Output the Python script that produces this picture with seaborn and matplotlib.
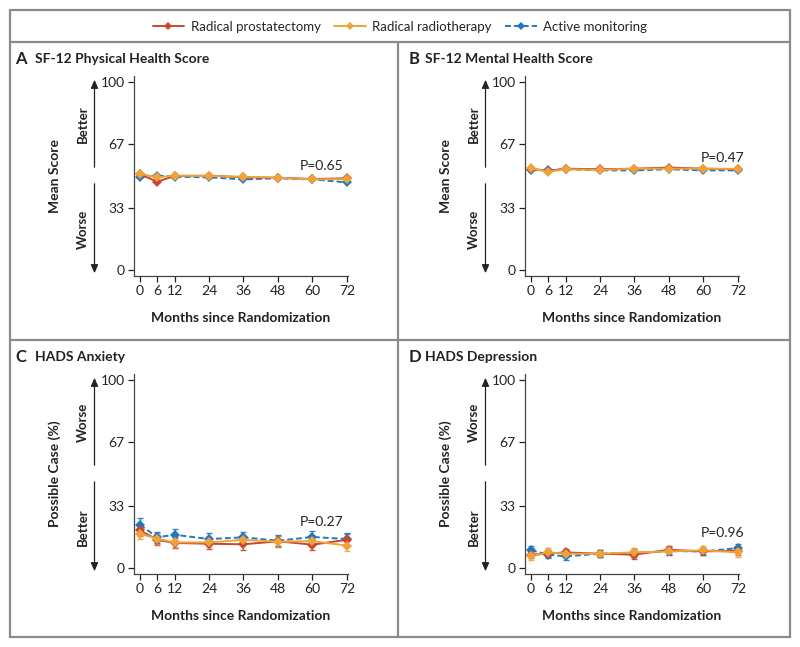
import numpy as np
import pandas as pd
import matplotlib.pyplot as plt
import seaborn as sns
from matplotlib.lines import Line2D

sns.set_style("white")
plt.rcParams['font.family'] = ['Lato', 'DejaVu Sans']

# Data
months = [0, 6, 12, 24, 36, 48, 60, 72]
groups = ["Radical prostatectomy", "Radical radiotherapy", "Active monitoring"]
colors = {"Radical prostatectomy": "#c9472d",
          "Radical radiotherapy": "#f0a23a",
          "Active monitoring": "#1f78c1"}

# Panel A: SF-12 physical health score
phys_rp = [50.9, 47.0, 50.0, 50.2, 49.3, 49.1, 48.4, 48.8]
phys_rt = [51.2, 49.3, 50.2, 50.0, 49.6, 49.1, 48.2, 48.4]
phys_am = [49.6, 50.2, 49.6, 49.3, 48.2, 48.8, 48.2, 46.6]

# Panel B: SF-12 mental health score
ment_rp = [53.9, 52.7, 53.9, 53.6, 53.9, 54.5, 53.9, 53.6]
ment_rt = [54.1, 52.3, 53.6, 53.2, 53.9, 53.9, 53.9, 53.8]
ment_am = [53.2, 53.0, 53.6, 53.0, 53.0, 53.6, 53.0, 53.0]

# Panel C: HADS anxiety, possible case (%)
anx_rp = [20.0, 15.0, 13.3, 12.9, 12.6, 14.2, 12.4, 15.0]
anx_rt = [18.2, 15.6, 13.6, 13.6, 15.0, 14.0, 14.3, 11.9]
anx_am = [23.0, 16.3, 17.7, 15.4, 16.3, 14.5, 16.5, 15.4]
anx_err_rp = [3.0, 2.8, 2.8, 2.8, 2.9, 2.8, 3.0, 3.1]
anx_err_rt = [2.7, 2.8, 2.7, 2.7, 2.8, 2.8, 2.8, 2.8]
anx_err_am = [3.5, 3.0, 3.2, 3.0, 3.1, 3.0, 3.1, 3.0]

# Panel D: HADS depression, possible case (%)
dep_rp = [7.1, 7.6, 8.3, 7.6, 7.1, 9.7, 8.8, 9.2]
dep_rt = [6.2, 8.3, 7.6, 7.6, 8.3, 8.8, 9.4, 8.3]
dep_am = [9.4, 7.1, 6.2, 7.6, 8.0, 9.0, 8.8, 10.6]
dep_err_rp = [2.0, 2.0, 2.0, 2.0, 2.1, 2.1, 2.0, 2.1]
dep_err_rt = [2.0, 2.1, 2.0, 2.0, 2.1, 2.0, 2.1, 2.5]
dep_err_am = [2.2, 2.0, 2.0, 2.0, 2.0, 2.0, 2.0, 2.1]

W, H = 800, 647
def fx(x):
    return x / W
def fy(y):
    return 1 - y / H

fig = plt.figure(figsize=(8.0, 6.47), dpi=100)

# frame and dividers
frame_col = "#8a8a8a"
for xs, ys in [([10, 790], [10, 10]), ([10, 790], [637, 637]),
               ([10, 10], [10, 637]), ([790, 790], [10, 637]),
               ([10, 790], [42, 42]), ([10, 790], [340, 340]),
               ([398, 398], [42, 637])]:
    fig.add_artist(Line2D([fx(v) for v in xs], [fy(v) for v in ys],
                          color=frame_col, lw=1.6))

panels = [
    dict(letter="A", title="SF-12 Physical Health Score", ox=0, oy=0,
         ylabel="Mean Score", up="Better", down="Worse",
         vals=[phys_rp, phys_rt, phys_am], errs=None, p="P=0.65",
         px=63.3, py=55.5),
    dict(letter="B", title="SF-12 Mental Health Score", ox=391, oy=0,
         ylabel="Mean Score", up="Better", down="Worse",
         vals=[ment_rp, ment_rt, ment_am], errs=None, p="P=0.47",
         px=66.8, py=59.5),
    dict(letter="C", title="HADS Anxiety", ox=0, oy=298,
         ylabel="Possible Case (%)", up="Worse", down="Better",
         vals=[anx_rp, anx_rt, anx_am],
         errs=[anx_err_rp, anx_err_rt, anx_err_am], p="P=0.27",
         px=63.3, py=24.5),
    dict(letter="D", title="HADS Depression", ox=391, oy=298,
         ylabel="Possible Case (%)", up="Worse", down="Better",
         vals=[dep_rp, dep_rt, dep_am],
         errs=[dep_err_rp, dep_err_rt, dep_err_am], p="P=0.96",
         px=66.8, py=18.5),
]

for pan in panels:
    ox, oy = pan["ox"], pan["oy"]
    ax = fig.add_axes([fx(133.7 + ox), fy(276 + oy), 214.7 / W, 199.6 / H])

    df = pd.DataFrame({
        "month": months * 3,
        "value": pan["vals"][0] + pan["vals"][1] + pan["vals"][2],
        "group": [g for g in groups for _ in months],
    })
    order = ["Active monitoring", "Radical prostatectomy", "Radical radiotherapy"]

    if pan["errs"] is not None:
        for g, v, e in zip(groups, pan["vals"], pan["errs"]):
            ax.errorbar(months, v, yerr=e, fmt="none", ecolor=colors[g],
                        elinewidth=1.0, capsize=2.2, capthick=1.0, alpha=0.9,
                        zorder=2)

    for g in order:
        sub = df[df["group"] == g]
        sns.lineplot(data=sub, x="month", y="value", ax=ax, color=colors[g],
                     marker="D", markersize=4.8, markeredgewidth=0,
                     linewidth=1.4,
                     linestyle="--" if g == "Active monitoring" else "-",
                     legend=False, zorder=3)
    for line in ax.lines:
        if line.get_linestyle() == "--":
            line.set_dashes((3, 1.6))
        line.set_clip_on(False)

    ax.set_xlim(-2.2, 72.5)
    ax.set_ylim(-3.2, 103)
    ax.set_xticks(months)
    ax.set_yticks([0, 33, 67, 100])
    ax.tick_params(axis="both", direction="out", length=4.5, width=0.9,
                   labelsize=10, colors="#222222", pad=2, left=True, bottom=True)
    sns.despine(ax=ax)
    for s in ["left", "bottom"]:
        ax.spines[s].set_color("#444444")
        ax.spines[s].set_linewidth(0.9)
    ax.set_ylabel("")
    ax.set_xlabel("Months since Randomization", fontsize=10,
                  fontweight="bold", color="#222222")
    ax.xaxis.set_label_coords(0.5, -0.18)
    ax.xaxis.label.set_va("top")

    ax.text(pan["px"], pan["py"], pan["p"], fontsize=10, ha="center",
            va="center", color="#222222")

    # titles
    fig.text(fx(15 + ox * 1.006), fy(59 + oy), pan["letter"], fontsize=12,
             fontweight="bold", va="center", ha="left", color="#222222")
    fig.text(fx(35 + ox * 0.998), fy(59 + oy), pan["title"], fontsize=10,
             fontweight="bold", va="center", ha="left", color="#222222")

    # y label and direction arrows
    fig.text(fx(55 + ox), fy(176 + oy), pan["ylabel"], fontsize=10,
             fontweight="bold", rotation=90, va="center", ha="center",
             color="#222222")
    fig.text(fx(83 + ox), fy(124 + oy), pan["up"], fontsize=9.5,
             fontweight="bold", rotation=90, va="center", ha="center",
             color="#222222")
    fig.text(fx(83 + ox), fy(229 + oy), pan["down"], fontsize=9.5,
             fontweight="bold", rotation=90, va="center", ha="center",
             color="#222222")
    ax_x = fx(94.5 + ox)
    fig.add_artist(plt.matplotlib.patches.FancyArrowPatch(
        (ax_x, fy(170 + oy)), (ax_x, fy(77 + oy)), arrowstyle="-|>,head_length=5,head_width=2.2",
        color="#222222", lw=0.9, transform=fig.transFigure))
    fig.add_artist(plt.matplotlib.patches.FancyArrowPatch(
        (ax_x, fy(181 + oy)), (ax_x, fy(276 + oy)), arrowstyle="-|>,head_length=5,head_width=2.2",
        color="#222222", lw=0.9, transform=fig.transFigure))

# legend
handles = [Line2D([], [], color=colors[g], marker="D", markersize=4,
                  markeredgewidth=0, lw=1.4,
                  linestyle=(0, (3, 1.6)) if g == "Active monitoring" else "-")
           for g in groups]
fig.legend(handles, groups, loc="center", bbox_to_anchor=(0.5, fy(27)),
           ncol=3, frameon=False, fontsize=9.5, handlelength=2.4,
           handletextpad=0.5, columnspacing=1.0)

fig.savefig("out.png", dpi=100)
